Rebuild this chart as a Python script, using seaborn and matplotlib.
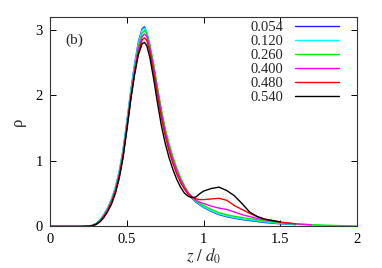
import numpy as np
import pandas as pd
import matplotlib
matplotlib.use('Agg')
import matplotlib.pyplot as plt
import seaborn as sns

nan = np.nan

# z / d0 grid
z = [0.0, 0.2, 0.25, 0.275, 0.3, 0.325, 0.35, 0.375, 0.4, 0.425, 0.45, 0.475,
     0.5, 0.525, 0.55, 0.575, 0.6, 0.615, 0.63, 0.65, 0.675, 0.7, 0.725, 0.75,
     0.775, 0.8, 0.825, 0.85, 0.875, 0.9, 0.925, 0.95, 0.975, 1.0, 1.05, 1.1,
     1.15, 1.2, 1.25, 1.3, 1.35, 1.4, 1.5, 1.6, 1.7, 1.8, 1.9, 2.0]

labels = ['0.054', '0.120', '0.260', '0.400', '0.480', '0.540']
colors = ['#2222ff', '#00ffff', '#00ee00', '#ff00ff', '#ff0000', '#000000']

rho_054 = [0, 0, 0.006, 0.018, 0.045, 0.1, 0.18, 0.28, 0.41, 0.59, 0.83, 1.16,
           1.6, 2.06, 2.47, 2.82, 3.02, 3.05, 2.95, 2.75, 2.43, 2.07, 1.73, 1.45,
           1.22, 1.02, 0.86, 0.72, 0.6, 0.5, 0.43, 0.37, 0.33, 0.29, 0.23, 0.18,
           0.15, 0.125, 0.105, 0.09, 0.075, 0.06, 0.04, 0.028, nan, nan, nan, nan]
rho_120 = [0, 0, 0.006, 0.017, 0.044, 0.098, 0.178, 0.28, 0.41, 0.59, 0.83, 1.15,
           1.58, 2.04, 2.45, 2.8, 3.0, 3.03, 2.97, 2.78, 2.47, 2.11, 1.77, 1.48,
           1.25, 1.05, 0.88, 0.73, 0.61, 0.51, 0.44, 0.38, 0.34, 0.3, 0.24, 0.19,
           0.16, 0.135, 0.115, 0.1, 0.085, 0.07, 0.045, 0.032, 0.022, 0.015, 0.01, nan]
rho_260 = [0, 0, 0.005, 0.015, 0.04, 0.09, 0.165, 0.26, 0.39, 0.56, 0.8, 1.11,
           1.53, 1.99, 2.4, 2.75, 2.95, 2.99, 2.95, 2.77, 2.47, 2.12, 1.78, 1.49,
           1.26, 1.06, 0.89, 0.74, 0.62, 0.52, 0.45, 0.39, 0.35, 0.32, 0.26, 0.21,
           0.18, 0.155, 0.135, 0.12, 0.1, 0.085, 0.055, 0.038, 0.027, 0.018, 0.012, 0.008]
rho_400 = [0, 0, 0.004, 0.014, 0.038, 0.086, 0.16, 0.255, 0.38, 0.55, 0.78, 1.09,
           1.51, 1.96, 2.37, 2.71, 2.9, 2.94, 2.9, 2.72, 2.42, 2.07, 1.73, 1.44,
           1.21, 1.01, 0.85, 0.71, 0.6, 0.51, 0.45, 0.4, 0.37, 0.35, 0.31, 0.28,
           0.26, 0.22, 0.18, 0.15, 0.12, 0.1, 0.065, 0.04, 0.025, nan, nan, nan]
rho_480 = [0, 0, 0.004, 0.013, 0.035, 0.08, 0.15, 0.245, 0.37, 0.53, 0.76, 1.07,
           1.49, 1.94, 2.34, 2.66, 2.85, 2.88, 2.84, 2.66, 2.35, 2.0, 1.66, 1.38,
           1.15, 0.96, 0.8, 0.67, 0.57, 0.49, 0.45, 0.42, 0.41, 0.41, 0.42, 0.43,
           0.4, 0.32, 0.26, 0.2, 0.15, 0.11, 0.065, 0.04, nan, nan, nan, nan]
rho_540 = [0, 0, 0.003, 0.011, 0.03, 0.07, 0.135, 0.225, 0.34, 0.5, 0.73, 1.04,
           1.47, 1.92, 2.31, 2.62, 2.79, 2.81, 2.76, 2.58, 2.25, 1.88, 1.54, 1.27,
           1.05, 0.87, 0.72, 0.6, 0.51, 0.46, 0.44, 0.45, 0.5, 0.54, 0.58, 0.6,
           0.55, 0.47, 0.35, 0.22, 0.15, 0.11, 0.07, nan, nan, nan, nan, nan]

series = [rho_054, rho_120, rho_260, rho_400, rho_480, rho_540]
rows = []
for lab, vals in zip(labels, series):
    for zz, r in zip(z, vals):
        rows.append({'z': zz, 'rho': r, 'label': lab})
df = pd.DataFrame(rows).dropna()

sns.set_theme(style='ticks')
plt.rcParams['font.family'] = ['Liberation Serif', 'DejaVu Serif']
plt.rcParams['mathtext.fontset'] = 'stix'

fig = plt.figure(figsize=(3.82, 2.68), dpi=100)
ax = fig.add_axes([0.131, 0.155, 0.804, 0.782])

sns.lineplot(data=df, x='z', y='rho', hue='label', hue_order=labels,
             palette=colors, estimator=None, sort=False, linewidth=1.0, ax=ax)

ax.set_xlim(0, 2)
ax.set_ylim(0, 3.2)
ax.set_xticks([0, 0.5, 1, 1.5, 2])
ax.set_xticklabels(['0', '0.5', '1', '1.5', '2'])
ax.set_yticks([0, 1, 2, 3])
ax.tick_params(direction='in', top=True, right=True, length=4, width=0.7,
               labelsize=10.5, pad=5, colors='black')
for sp in ax.spines.values():
    sp.set_linewidth(0.8)
    sp.set_color('#333333')

ax.set_xlabel(r'$z\ /\ d_0$', fontsize=12, labelpad=0)
ax.set_ylabel('ρ', fontsize=12, labelpad=7)
ax.text(0.05, 0.89, '(b)', transform=ax.transAxes, fontsize=11, va='center')

handles, labs = ax.get_legend_handles_labels()
ax.legend(handles, labs, loc='upper right', bbox_to_anchor=(0.955, 1.0),
          frameon=False, markerfirst=False, handlelength=3.0, handletextpad=0.8,
          labelspacing=0.05, fontsize=10.5, borderaxespad=0.2, borderpad=0.1)

fig.savefig('out.png', dpi=100)
